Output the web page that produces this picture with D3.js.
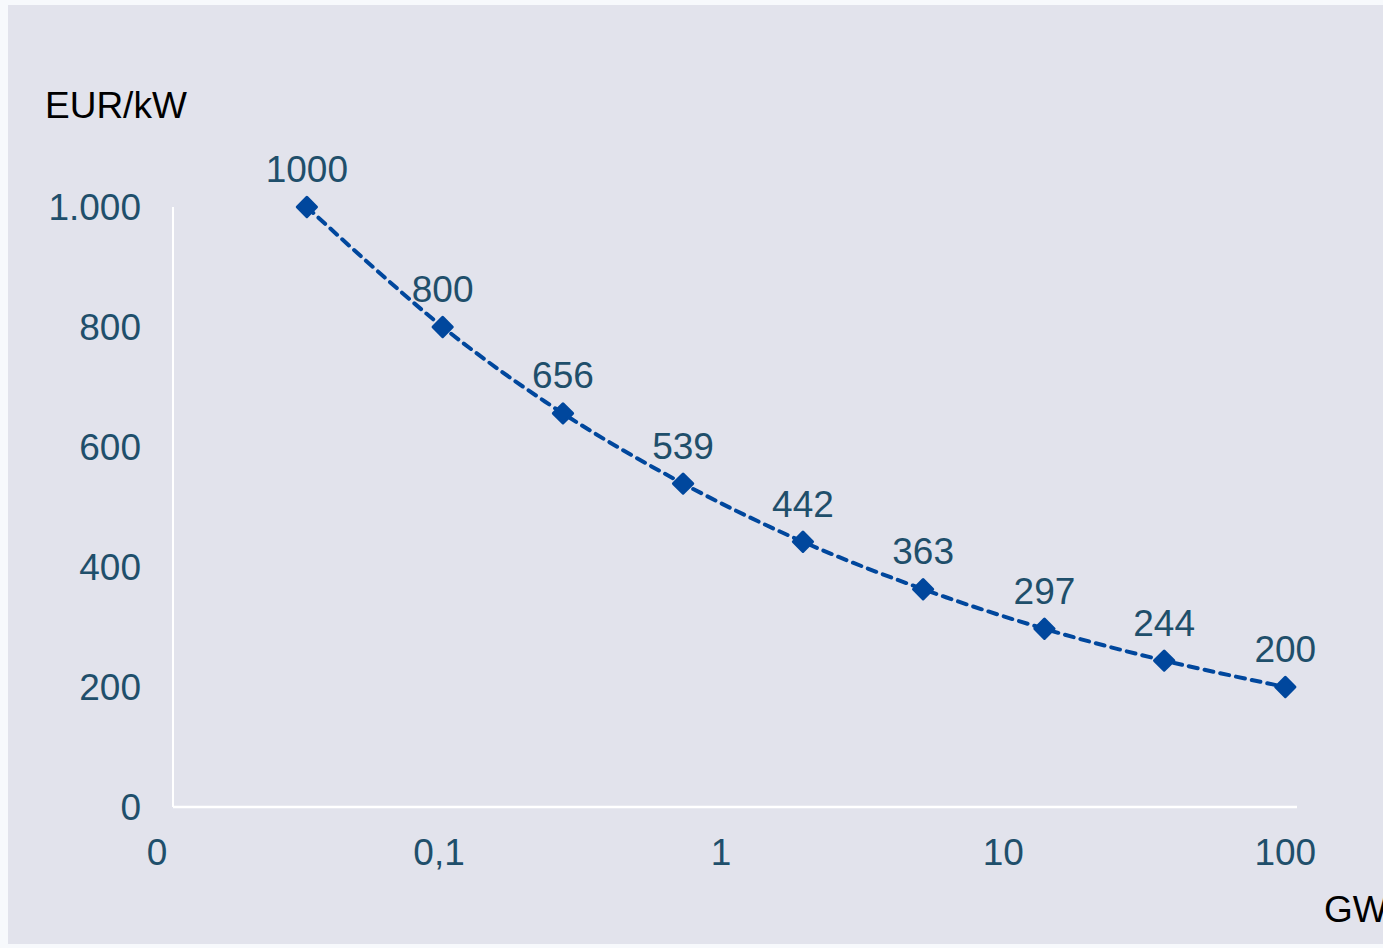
<!DOCTYPE html>
<html>
<head>
<meta charset="utf-8">
<script src="https://cdn.jsdelivr.net/npm/d3@7"></script>
<style>
  html, body { margin: 0; padding: 0; background: #f7f9fc; }
  svg { display: block; }
  text { font-family: "Liberation Sans", Arial, sans-serif; }
</style>
</head>
<body>
<script>
// Cumulative installed capacity (GW) and specific cost (EUR/kW) along the learning curve
const capacityGW = [0.034, 0.103, 0.275, 0.733, 1.95, 5.2, 14, 37.2, 100];
const costEUR = [1000, 800, 656, 539, 442, 363, 297, 244, 200];

// Axis ticks
const xTickValues = [0.01, 0.1, 1, 10, 100];
const xTickLabels = ["0", "0,1", "1", "10", "100"];
const yTickValues = [0, 200, 400, 600, 800, 1000];
const yTickLabels = ["0", "200", "400", "600", "800", "1.000"];

const W = 1383, H = 948;
const textColor = "#1f4f6b";
const lineColor = "#00479d";
const fontSize = 37;

const svg = d3.select("body").append("svg")
  .attr("width", W).attr("height", H);

// Panel background
svg.append("rect")
  .attr("x", 8).attr("y", 5)
  .attr("width", W - 8).attr("height", H - 9)
  .attr("fill", "#e2e3ec");

const x = d3.scaleLog().domain([0.0114, 110]).range([173, 1297]);
const y = d3.scaleLinear().domain([0, 1000]).range([807, 207]);

// Axis lines
svg.append("line")
  .attr("x1", x.range()[0]).attr("x2", x.range()[1])
  .attr("y1", y(0)).attr("y2", y(0))
  .attr("stroke", "#ffffff").attr("stroke-width", 2.5);
svg.append("line")
  .attr("x1", x.range()[0]).attr("x2", x.range()[0])
  .attr("y1", y(0)).attr("y2", y(1000))
  .attr("stroke", "#ffffff").attr("stroke-width", 2);

// Y tick labels
svg.append("g").selectAll("text")
  .data(yTickValues)
  .join("text")
  .attr("x", 141)
  .attr("y", d => y(d) + 13)
  .attr("text-anchor", "end")
  .attr("font-size", fontSize)
  .attr("fill", textColor)
  .text((d, i) => yTickLabels[i]);

// X tick labels
svg.append("g").selectAll("text")
  .data(xTickValues)
  .join("text")
  .attr("x", d => x(d))
  .attr("y", 865)
  .attr("text-anchor", "middle")
  .attr("font-size", fontSize)
  .attr("fill", textColor)
  .text((d, i) => xTickLabels[i]);

// Axis titles
svg.append("text")
  .attr("x", 45).attr("y", 118)
  .attr("font-size", fontSize)
  .attr("fill", "#000000")
  .text("EUR/kW");
svg.append("text")
  .attr("x", 1324).attr("y", 922)
  .attr("font-size", fontSize)
  .attr("fill", "#000000")
  .text("GW");

const points = capacityGW.map((c, i) => ({ c, v: costEUR[i] }));

// Dashed smoothed curve
const line = d3.line()
  .x(d => x(d.c))
  .y(d => y(d.v))
  .curve(d3.curveCatmullRom.alpha(0.5));

svg.append("path")
  .datum(points)
  .attr("d", line)
  .attr("fill", "none")
  .attr("stroke", lineColor)
  .attr("stroke-width", 4)
  .attr("stroke-dasharray", "9 7")
  .attr("stroke-linecap", "round");

// Diamond markers
const diamond = d3.symbol().type(d3.symbolSquare).size(185);
svg.append("g").selectAll("path")
  .data(points)
  .join("path")
  .attr("d", diamond)
  .attr("transform", d => `translate(${x(d.c)},${y(d.v)}) rotate(45)`)
  .attr("fill", lineColor)
  .attr("stroke", lineColor)
  .attr("stroke-width", 3)
  .attr("stroke-linejoin", "round");

// Value labels
svg.append("g").selectAll("text")
  .data(points)
  .join("text")
  .attr("x", d => x(d.c))
  .attr("y", d => y(d.v) - 25)
  .attr("text-anchor", "middle")
  .attr("font-size", fontSize)
  .attr("fill", textColor)
  .text(d => d.v);
</script>
</body>
</html>
